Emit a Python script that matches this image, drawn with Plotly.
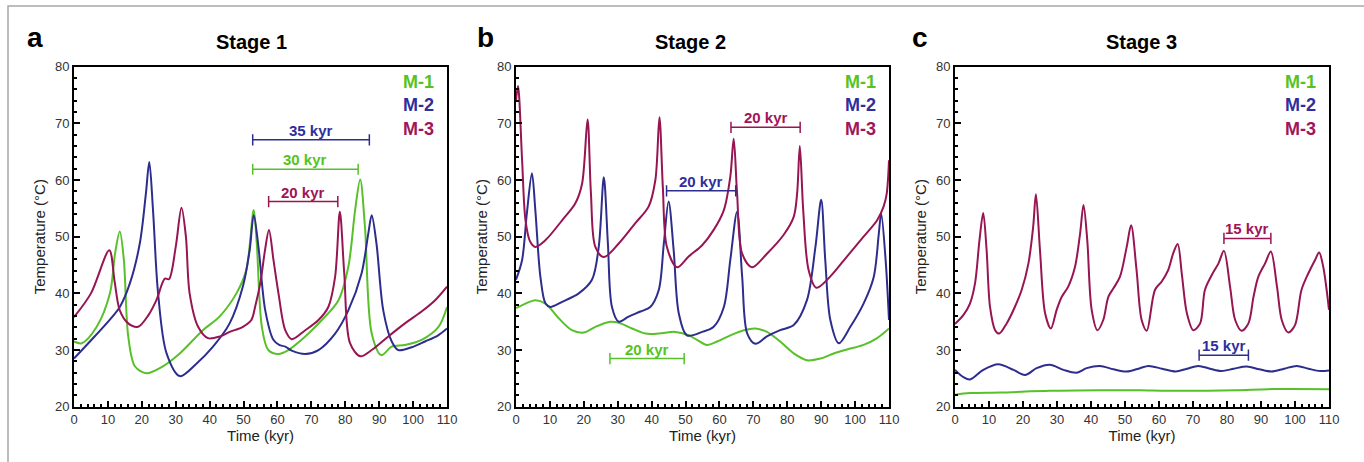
import plotly.graph_objects as go

# Temperature histories (kyr, degC)
a_m1_t = [0, 2.3, 6.7, 10.6, 12.1, 13.5, 14.7, 16.0, 18.0, 21.4, 25.3, 31.2, 38.0, 42.9, 47.9, 50.8, 53.0, 53.9, 55.4, 57.3,
          60.3, 63.2, 68.2, 73.1, 78.0, 80.9, 82.9, 84.4, 85.8, 87.8, 90.6, 93.7, 97.6, 102.5, 107.5, 110]
a_m1_T = [31.5, 31.2, 34.1, 40.0, 47.0, 50.9, 45.9, 32.4, 27.1, 25.9, 26.8, 29.4, 33.5, 35.9, 40.0, 44.1, 54.7, 48.8, 34.1, 30.0,
          29.3, 30.0, 32.4, 35.3, 38.8, 44.7, 54.7, 60.1, 51.8, 32.9, 29.1, 30.6, 30.9, 31.8, 34.1, 37.6]
a_m2_t = [0, 4.7, 9.6, 13.5, 16.5, 19.4, 21.2, 22.2, 23.3, 24.8, 27.3, 31.2, 36.1, 41.0, 45.9, 49.8, 51.8, 53.0, 54.4, 56.4,
          58.8, 60.5, 62.3, 64.2, 68.2, 72.1, 77.0, 80.9, 84.8, 86.8, 87.8, 89.2, 91.2, 93.7, 95.6, 99.6, 103.5, 107.4, 110]
a_m2_T = [28.5, 31.5, 34.7, 37.6, 41.8, 48.8, 57.6, 63.2, 54.7, 40.0, 29.4, 25.4, 27.6, 30.6, 34.7, 41.2, 47.6, 53.8, 48.2, 37.0,
          31.8, 30.9, 30.6, 29.9, 29.3, 30.0, 32.9, 37.0, 43.5, 50.6, 53.8, 48.8, 37.0, 31.5, 30.0, 30.5, 31.5, 32.6, 33.8]
a_m3_t = [0, 5, 10.4, 12, 13.5, 16, 18.9, 22, 24.3, 26.8, 28, 30, 31.7, 33, 34.1, 36.6, 39.5, 43, 45.9, 49.8, 52.3, 53.4,
          55.0, 56.3, 57.5, 58.8, 60.3, 62.3, 64.2, 68.2, 72.1, 75, 77, 78.4, 79.7, 81.4, 84.4, 87.8, 92.7, 97.6, 102.5, 106.5, 110]
a_m3_T = [35.8, 40.0, 47.6, 42.0, 37.0, 34.7, 34.1, 36.2, 38.8, 42.6, 42.5, 48.2, 55.1, 50.0, 40.0, 34.1, 32.1, 32.4, 33.2, 34.1, 35.3, 37.6,
          42.0, 47.5, 51.2, 46.0, 40.0, 33.5, 31.9, 33.5, 35.3, 37.6, 42.9, 54.4, 43.5, 31.2, 28.9, 30.0, 32.4, 34.7, 36.8, 38.8, 41.2]

b_m1_t = [0, 2.8, 5.7, 8.7, 12.6, 16.5, 20, 23.4, 27.8, 30.3, 34.2, 38.2, 42.1, 47, 50.9, 53.4, 56.3, 59.3, 63.2, 67.2,
          70.6, 74, 77.9, 81.9, 85.8, 89.8, 93.7, 97.6, 102.5, 106.5, 110]
b_m1_T = [37.4, 38.2, 38.8, 38.2, 35.6, 33.5, 33.1, 34.1, 35.0, 34.8, 33.8, 32.9, 32.9, 33.2, 32.6, 31.8, 30.9, 31.5, 32.6, 33.5,
          33.8, 33.2, 31.5, 29.4, 28.2, 28.5, 29.4, 30.1, 30.9, 32.1, 33.8]
b_m2_t = [0, 1.8, 3.2, 4.7, 5.7, 7.2, 8.7, 10.1, 13.6, 18.5, 22.4, 24.4, 25.9, 27.1, 28.3, 30.3, 33.2, 36.7, 39.6, 42.1,
          43.6, 45, 46.5, 48, 50.4, 54.9, 58.3, 61.3, 63.2, 65.2, 66.7, 68.2, 70.6, 74, 77.9, 81.9, 85.8, 88.3, 90, 91.2,
          92.7, 95.2, 98.6, 102.5, 105.5, 107, 107.7, 109, 110]
b_m2_T = [42.4, 45.9, 54.1, 61.2, 54.7, 42.9, 38.2, 37.6, 38.5, 40.0, 42.4, 48.2, 60.5, 48.8, 37.6, 35.0, 35.9, 36.8, 37.6, 40.6,
          48.8, 56.2, 47.6, 36.5, 32.6, 33.2, 34.1, 37.6, 45.9, 54.4, 42.9, 32.9, 31.1, 32.4, 33.5, 34.4, 38.8, 48.2, 56.5, 45.9,
          35.3, 31.2, 34.1, 38.2, 42.9, 50.6, 54.1, 45.9, 35.3]
b_m3_t = [0, 0.6, 1.8, 2.8, 4.2, 5.7, 8.7, 13.6, 17.5, 19.5, 21.1, 22.1, 23.4, 25.9, 30.3, 35.2, 39.1, 41.1, 42.3, 43.3,
          44.5, 47.5, 50.9, 54.9, 58.3, 61.3, 63.2, 64.2, 65.2, 66.7, 69.6, 74, 78.9, 81.9, 82.9, 83.7, 84.7, 86.3, 88.6, 92.7,
          97.6, 102.5, 106.5, 108.4, 109.3, 110]
b_m3_T = [74.0, 76.6, 63.5, 52.9, 49.1, 48.2, 49.4, 52.9, 55.9, 59.4, 70.7, 57.6, 48.2, 46.4, 48.8, 52.4, 55.3, 60.0, 71.1, 58.8,
          48.2, 44.6, 46.5, 48.5, 51.2, 54.7, 60.6, 67.3, 57.6, 47.0, 44.6, 47.0, 50.3, 53.5, 57.6, 66.0, 54.7, 44.1, 41.0, 43.0,
          46.5, 50.0, 52.9, 55.3, 57.5, 63.5]

c_m1_t = [0, 4.4, 13.2, 27.9, 42.6, 54.4, 62.7, 82.4, 92.2, 110]
c_m1_T = [22.1, 22.4, 22.5, 22.8, 22.9, 22.9, 22.8, 22.9, 23.1, 23.1]
c_m2_t = [0, 2.5, 4.4, 8.3, 12.7, 17.2, 20.6, 24, 27.9, 31.9, 35.8, 38.7, 42.6, 46.6, 50.5, 54.4, 56.9, 60.9, 64.9, 68.2,
          71.6, 75, 78.4, 82, 85.8, 89.5, 93.1, 96.8, 100.5, 104, 107.4, 110]
c_m2_T = [26.5, 25.2, 24.8, 26.5, 27.5, 26.5, 25.6, 26.8, 27.4, 26.5, 26.0, 26.8, 27.2, 26.6, 26.2, 26.8, 27.2, 26.7, 26.2, 26.7,
          27.2, 26.7, 26.3, 26.7, 27.1, 26.6, 26.2, 26.7, 27.2, 26.7, 26.3, 26.4]
c_m3_t = [0, 2.5, 4.4, 5.9, 7.2, 8.3, 9.3, 10.3, 11.8, 13, 15.2, 17.6, 19.6, 21.6, 23, 23.8, 25, 26.5, 28.2, 29.9,
          31.4, 33.3, 35.3, 36.8, 37.8, 38.9, 40.2, 41.9, 43.6, 45.1, 46.6, 48.5, 50.5, 51.8, 53.4, 54.9, 56.4, 58.8, 60.8, 62.7,
          64.2, 65.5, 66.7, 68.2, 70.1, 72.1, 73.5, 75.5, 77.5, 79.1, 80.9, 82.4, 84.3, 86.3, 87.8, 89.2, 91.2, 92.9, 94.7, 96.1,
          98, 100, 101.9, 103.9, 105.9, 107.1, 108.3, 110]
c_m3_T = [34.6, 36.2, 38.2, 41.8, 49.4, 54.2, 47.6, 37.6, 33.5, 32.9, 34.7, 37.6, 40.6, 45.3, 51.8, 57.5, 47.6, 36.5, 33.8, 37.1,
          39.4, 41.2, 44.7, 50.6, 55.6, 49.4, 37.1, 33.5, 35.3, 39.4, 40.9, 42.9, 48.2, 52.0, 44.1, 35.3, 33.4, 40.6, 42.1, 44.1,
          47.1, 48.7, 43.5, 36.5, 33.5, 34.7, 40.6, 43.2, 45.3, 47.5, 41.2, 35.3, 33.4, 34.7, 39.4, 42.9, 45.3, 47.4, 41.2, 35.3,
          33.1, 34.4, 40.6, 43.5, 45.9, 47.2, 44.7, 37.1]

# period markers: start, end, level, label, model
a_spans = [(52.7, 87.1, 67.1, "35 kyr", "M-2"), (52.7, 83.8, 61.9, "30 kyr", "M-1"), (57.4, 77.8, 56.2, "20 kyr", "M-3")]
b_spans = [(44.4, 64.8, 58.1, "20 kyr", "M-2"), (63.4, 83.8, 69.3, "20 kyr", "M-3"), (27.7, 49.6, 28.5, "20 kyr", "M-1")]
c_spans = [(79.1, 92.9, 49.7, "15 kyr", "M-3"), (71.8, 86.3, 29.1, "15 kyr", "M-2")]

models = ["M-1", "M-2", "M-3"]
line_col = {"M-1": "#58C02A", "M-2": "#2D2D8E", "M-3": "#961552"}
text_col = {"M-1": "#55C41E", "M-2": "#2E2E9E", "M-3": "#A0145A"}

# letter, title, series, spans, plot x-extent (px), title x (px), letter x (px)
panels = [
    ("a", "Stage 1", [(a_m1_t, a_m1_T), (a_m2_t, a_m2_T), (a_m3_t, a_m3_T)], a_spans, [74, 447], 251, 35),
    ("b", "Stage 2", [(b_m1_t, b_m1_T), (b_m2_t, b_m2_T), (b_m3_t, b_m3_T)], b_spans, [516, 889], 690, 485),
    ("c", "Stage 3", [(c_m1_t, c_m1_T), (c_m2_t, c_m2_T), (c_m3_t, c_m3_T)], c_spans, [955, 1329], 1141, 920),
]

W, H = 1364, 462
FONT = "Liberation Sans, Arial, sans-serif"
fig = go.Figure()
annotations = []

legend_text = "<br>".join("<span style='color:%s'><b>%s</b></span>" % (text_col[m], m) for m in models)

for i, (letter, title, series, spans, px, tx, lx) in enumerate(panels):
    n = "" if i == 0 else str(i + 1)
    xa, ya = "x" + n, "y" + n
    for m, (t, T) in zip(models, series):
        fig.add_trace(go.Scatter(x=t, y=T, mode="lines", xaxis=xa, yaxis=ya,
                                 line=dict(color=line_col[m], width=2, shape="spline", smoothing=0.9),
                                 showlegend=False, hoverinfo="skip"))
    for x0, x1, lvl, lab, m in spans:
        fig.add_trace(go.Scatter(x=[x0, x1], y=[lvl, lvl], mode="lines+markers", xaxis=xa, yaxis=ya,
                                 line=dict(color=line_col[m], width=1.5),
                                 marker=dict(symbol="line-ns-open", size=8, line=dict(color=line_col[m], width=1.5)),
                                 showlegend=False, hoverinfo="skip"))
        annotations.append(dict(x=(x0 + x1) / 2, y=lvl, xref=xa, yref=ya, text="<b>%s</b>" % lab,
                                showarrow=False, xanchor="center", yanchor="bottom", yshift=-1,
                                font=dict(family=FONT, size=15, color=text_col[m])))
    annotations.append(dict(x=0.97, y=73.2, xref=xa + " domain", yref=ya, text=legend_text,
                            showarrow=False, xanchor="right", yanchor="middle", align="right",
                            font=dict(family=FONT, size=18)))
    annotations.append(dict(x=tx / W, y=1 - 42 / H, xref="paper", yref="paper", text="<b>%s</b>" % title,
                            showarrow=False, xanchor="center", yanchor="middle",
                            font=dict(family=FONT, size=20, color="black")))
    annotations.append(dict(x=lx / W, y=1 - 38 / H, xref="paper", yref="paper", text="<b>%s</b>" % letter,
                            showarrow=False, xanchor="center", yanchor="middle",
                            font=dict(family=FONT, size=28, color="black")))

    axis_common = dict(showline=True, linecolor="black", linewidth=2, mirror=True, showgrid=False, zeroline=False,
                       ticks="inside", ticklen=6, tickwidth=1.5, tickcolor="black",
                       tickfont=dict(family=FONT, size=13, color="#333"), automargin=False)
    fig.update_layout(**{
        "xaxis" + n: dict(axis_common, domain=[px[0] / W, px[1] / W], range=[0, 110], dtick=10, anchor=ya,
                          minor=dict(ticks="inside", dtick=2, ticklen=3, tickcolor="black"),
                          title=dict(text="Time (kyr)", standoff=2, font=dict(family=FONT, size=15, color="#222"))),
        "yaxis" + n: dict(axis_common, domain=[1 - 406.7 / H, 1 - 66.7 / H], range=[20, 80], dtick=10, anchor=xa,
                          minor=dict(ticks="inside", dtick=2, ticklen=3, tickcolor="black"),
                          title=dict(text="Temperature (°C)", standoff=6, font=dict(family=FONT, size=15, color="#222"))),
    })

fig.update_layout(
    width=W, height=H, margin=dict(l=0, r=0, t=0, b=0),
    paper_bgcolor="white", plot_bgcolor="white",
    annotations=annotations,
    shapes=[dict(type="rect", xref="paper", yref="paper", x0=8 / W, x1=1.2, y0=-0.2, y1=1 - 6 / H,
                 line=dict(color="#A8A8A8", width=1.5))],
)

fig.write_html("out.html", config={"displayModeBar": False},
               post_script="document.body.style.margin='0px';")
